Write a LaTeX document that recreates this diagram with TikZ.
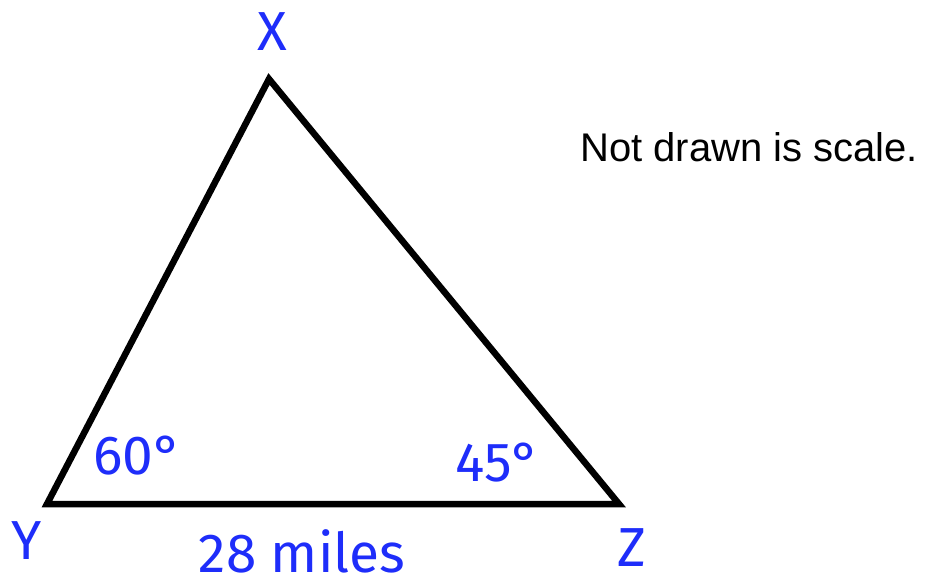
\documentclass[tikz,border=0pt]{standalone}
\usepackage{fontspec}
\setmainfont{Liberation Sans}
\newfontfamily\lblfont{Fira Sans}
\definecolor{lblblue}{RGB}{30,45,250}
\begin{document}
\begin{tikzpicture}[x=1pt,y=-1pt,
  lbl/.style={text=lblblue,font=\lblfont\fontsize{55}{64}\selectfont,inner sep=0pt,anchor=center},
  side/.style={line width=6.5pt,line join=miter}]
\useasboundingbox (0,0) rectangle (926,585);
\coordinate (X) at (269,79);
\coordinate (Y) at (47,504);
\coordinate (Z) at (619,504);
\draw[side] (X) -- (Y) -- (Z) -- cycle;
\node[lbl] (lx) at (272,32) {X};
\node[lbl] (ly) at (27,541) {Y};
\node[lbl] (lz) at (632,548) {Z};
\node[lbl] (a60) at (138,456) {60°};
\node[lbl] (a45) at (498,463) {45°};
\node[lbl] (len) at (302,551) {28 miles};
\node[font=\fontsize{40}{48}\selectfont,inner sep=0pt,anchor=base west] (note) at (580,162) {Not drawn is scale.};
\end{tikzpicture}
\end{document}
